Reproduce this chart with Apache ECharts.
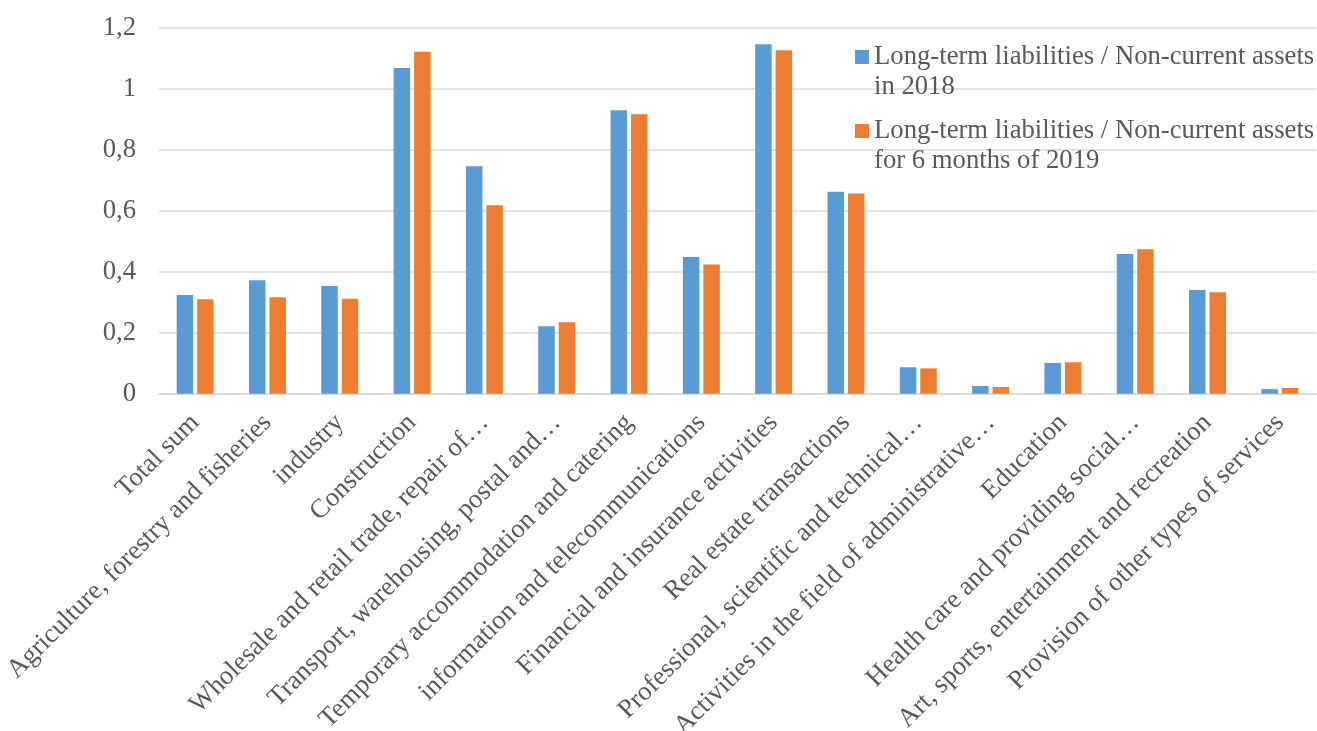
<!DOCTYPE html>
<html>
<head>
<meta charset="utf-8">
<script src="https://cdn.jsdelivr.net/npm/echarts@6/dist/echarts.min.js"></script>
<style>html,body{margin:0;padding:0;background:#fff}#c{width:1317px;height:731px}</style>
</head>
<body>
<div id="c"></div>
<script>
const categories = [
  "Total sum",
  "Agriculture, forestry and fisheries",
  "industry",
  "Construction",
  "Wholesale and retail trade, repair of…",
  "Transport, warehousing, postal and…",
  "Temporary accommodation and catering",
  "information and telecommunications",
  "Financial and insurance activities",
  "Real estate transactions",
  "Professional, scientific and technical…",
  "Activities in the field of administrative…",
  "Education",
  "Health care and providing social…",
  "Art, sports, entertainment and recreation",
  "Provision of other types of services"
];
const seriesNames = [
  "Long-term liabilities / Non-current assets in 2018",
  "Long-term liabilities / Non-current assets for 6 months of 2019"
];
const values2018 = [0.324, 0.372, 0.353, 1.068, 0.746, 0.221, 0.929, 0.448, 1.146, 0.662, 0.087, 0.025, 0.101, 0.458, 0.340, 0.015];
const values2019 = [0.310, 0.316, 0.311, 1.121, 0.618, 0.234, 0.916, 0.424, 1.126, 0.656, 0.083, 0.022, 0.103, 0.474, 0.333, 0.019];
const yTicks = { min: 0, max: 1.2, interval: 0.2 };

const FONT = '"Liberation Serif", "Times New Roman", serif';
const TXT = '#595959';
const FS = 26.7;
const chart = echarts.init(document.getElementById('c'));
const legendIcon = 'path://M0,0H14V14H0Z M0,43.95H0.05V44H0Z';
chart.setOption({
  animation: false,
  backgroundColor: '#ffffff',
  textStyle: { fontFamily: FONT },
  grid: { left: 159, right: 1, top: 27.7, bottom: 337.3, containLabel: false, outerBoundsMode: 'none' },
  legend: {
    orient: 'vertical',
    left: 855,
    top: 42,
    padding: 0,
    itemGap: 14,
    itemWidth: 14,
    itemHeight: 44,
    icon: legendIcon,
    textStyle: { fontFamily: FONT, fontSize: FS, color: TXT, lineHeight: 30 },
    formatter: function (n) { return n.replace(' assets ', ' assets\n'); },
    data: seriesNames
  },
  xAxis: {
    type: 'category',
    data: categories,
    axisLine: { show: true, lineStyle: { color: '#d9d9d9', width: 1.5 } },
    axisTick: { show: false },
    axisLabel: {
      interval: 0,
      rotate: 45,
      margin: 25,
      fontFamily: FONT,
      fontSize: FS,
      color: TXT
    }
  },
  yAxis: {
    type: 'value',
    min: yTicks.min,
    max: yTicks.max,
    interval: yTicks.interval,
    axisLine: { show: false },
    axisTick: { show: false },
    splitLine: { lineStyle: { color: '#d9d9d9', width: 1.5 } },
    axisLabel: {
      margin: 23,
      fontFamily: FONT,
      fontSize: FS,
      color: TXT,
      formatter: function (v) { return String(+v.toFixed(1)).replace('.', ','); }
    }
  },
  series: [
    {
      name: seriesNames[0],
      type: 'bar',
      data: values2018,
      barWidth: 16.5,
      barGap: '24%',
      itemStyle: { color: '#5B9BD5' }
    },
    {
      name: seriesNames[1],
      type: 'bar',
      data: values2019,
      barWidth: 16.5,
      barGap: '24%',
      itemStyle: { color: '#ED7D31' }
    }
  ]
});
</script>
</body>
</html>
